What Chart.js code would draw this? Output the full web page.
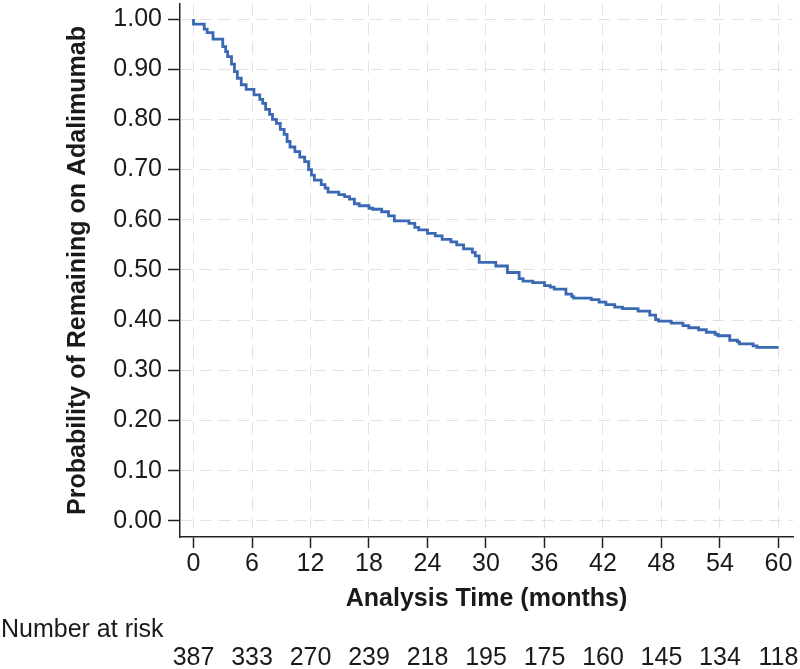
<!DOCTYPE html>
<html>
<head>
<meta charset="utf-8">
<script src="https://cdn.jsdelivr.net/npm/chart.js@4.4.1/dist/chart.umd.min.js"></script>
<style>
  body { margin: 0; background: #fff; }
  #wrap { width: 800px; height: 669px; position: relative; }
</style>
</head>
<body>
<div id="wrap"><canvas id="kmChart"></canvas></div>
<script>
// Kaplan-Meier steps: time (months) where the curve drops, and the new value
const times = [0, 1.1, 1.4, 2.0, 3.0, 3.3, 3.5, 3.9, 4.2, 4.5, 4.9, 5.4, 6.2, 6.8, 7.1, 7.4, 7.8, 8.1, 8.5, 8.9,
  9.3, 9.6, 9.9, 10.4, 10.9, 11.4, 11.8, 12.1, 12.4, 13.1, 13.5, 13.8, 14.9, 15.5, 16.0, 16.5, 17.0, 18.0, 18.4,
  19.3, 20.0, 20.6, 22.1, 22.7, 23.1, 24.0, 24.8, 25.5, 26.4, 27.0, 27.7, 28.6, 28.9, 29.3, 31.0, 32.2, 33.4,
  33.8, 34.8, 36.0, 36.6, 37.0, 38.2, 38.8, 39.0, 40.8, 41.6, 42.3, 43.2, 44.0, 45.6, 46.8, 47.4, 47.7, 49.0,
  50.2, 50.8, 51.8, 52.6, 53.5, 53.8, 55.0, 55.8, 56.0, 57.4, 57.8, 58.2, 60.0];
const survival = [1.0, 0.99, 0.98, 0.973, 0.96, 0.945, 0.935, 0.925, 0.91, 0.895, 0.882, 0.869, 0.86, 0.849, 0.84,
  0.832, 0.82, 0.81, 0.80, 0.792, 0.78, 0.77, 0.756, 0.745, 0.736, 0.725, 0.716, 0.70, 0.689, 0.679, 0.67, 0.663,
  0.655, 0.65, 0.646, 0.641, 0.632, 0.628, 0.623, 0.621, 0.616, 0.608, 0.598, 0.593, 0.585, 0.58, 0.573, 0.568,
  0.561, 0.556, 0.55, 0.542, 0.535, 0.528, 0.515, 0.508, 0.495, 0.483, 0.478, 0.475, 0.469, 0.466, 0.462, 0.452,
  0.447, 0.444, 0.441, 0.436, 0.431, 0.426, 0.423, 0.418, 0.41, 0.401, 0.398, 0.394, 0.389, 0.385, 0.381, 0.376,
  0.372, 0.369, 0.36, 0.357, 0.353, 0.349, 0.346, 0.346];

const xTicks = [0, 6, 12, 18, 24, 30, 36, 42, 48, 54, 60];
const yTicks = [0, 0.1, 0.2, 0.3, 0.4, 0.5, 0.6, 0.7, 0.8, 0.9, 1.0];
const riskTimes = [0, 6, 12, 18, 24, 30, 36, 42, 48, 54, 60];
const riskCounts = [387, 333, 270, 239, 218, 195, 175, 160, 145, 134, 118];

const FONT = "'Liberation Sans', Arial, Helvetica, sans-serif";
const TEXT = "#1a1a1a";

// number at risk table under the axis
const riskTable = {
  id: "riskTable",
  afterDraw(chart) {
    const ctx = chart.ctx;
    const x = chart.scales.x;
    ctx.save();
    ctx.fillStyle = TEXT;
    ctx.font = "25px " + FONT;
    ctx.textBaseline = "alphabetic";
    ctx.textAlign = "left";
    ctx.fillText("Number at risk", 1, 637);
    ctx.textAlign = "center";
    riskTimes.forEach((t, i) => {
      ctx.fillText(String(riskCounts[i]), x.getPixelForValue(t), 665);
    });
    ctx.restore();
  }
};

const ctx = document.getElementById("kmChart").getContext("2d");
new Chart(ctx, {
  type: "line",
  data: {
    datasets: [{
      data: times.map((t, i) => ({ x: t, y: survival[i] })),
      borderColor: "#3a68b2",
      borderWidth: 2.8,
      pointRadius: 0,
      stepped: "after",
      fill: false
    }]
  },
  options: {
    responsive: true,
    maintainAspectRatio: false,
    animation: false,
    layout: { padding: { top: 4, right: 7, bottom: 54, left: 0 } },
    plugins: { legend: { display: false }, tooltip: { enabled: false } },
    scales: {
      x: {
        type: "linear",
        min: -1.385,
        max: 61.49,
        afterBuildTicks: s => { s.ticks = xTicks.map(v => ({ value: v })); },
        afterFit: s => { s.height = 78; s.paddingLeft = 0; s.paddingRight = 0; },
        ticks: {
          font: { family: FONT, size: 25 },
          color: TEXT,
          padding: 1,
          maxRotation: 0,
          callback: v => String(v)
        },
        grid: {
          color: "#e2e2e2",
          lineWidth: 1,
          tickColor: "#222",
          tickLength: 11,
          tickWidth: 1.5
        },
        border: { display: true, color: "#222", width: 1.5, dash: [12, 7] },
        title: {
          display: true,
          text: "Analysis Time (months)",
          font: { family: FONT, size: 25, weight: "bold" },
          color: TEXT,
          padding: { top: 0, bottom: 1 }
        }
      },
      y: {
        min: -0.0319,
        max: 1.0299,
        afterBuildTicks: s => { s.ticks = yTicks.map(v => ({ value: v })); },
        afterFit: s => { s.width = 180; s.paddingTop = 0; s.paddingBottom = 0; },
        ticks: {
          font: { family: FONT, size: 25 },
          color: TEXT,
          padding: 6,
          callback: v => Number(v).toFixed(2)
        },
        grid: {
          color: "#e2e2e2",
          lineWidth: 1,
          tickColor: "#222",
          tickLength: 12,
          tickWidth: 1.5
        },
        border: { display: true, color: "#222", width: 1.5, dash: [12, 7] },
        title: {
          display: true,
          text: "Probability of Remaining on Adalimumab",
          font: { family: FONT, size: 25, weight: "bold" },
          color: TEXT,
          padding: { top: 63, bottom: 0 }
        }
      }
    }
  },
  plugins: [riskTable]
});
</script>
</body>
</html>
